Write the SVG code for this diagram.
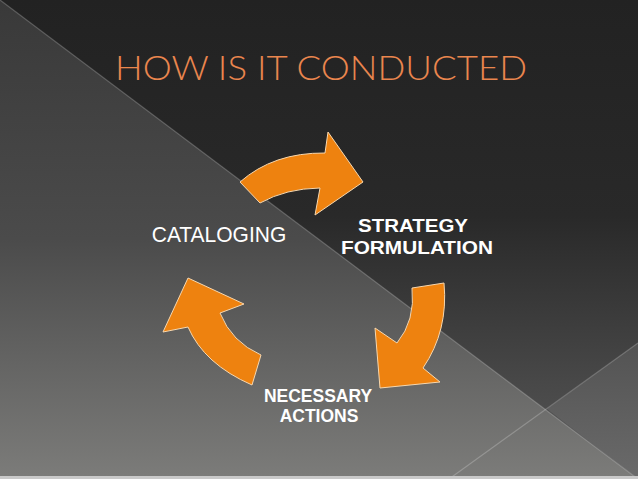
<svg xmlns="http://www.w3.org/2000/svg" width="638" height="479" viewBox="0 0 638 479">
  <defs>
    <linearGradient id="bgLower" x1="0" y1="0" x2="0" y2="1">
      <stop offset="0" stop-color="#393939"/>
      <stop offset="0.5" stop-color="#4b4b4b"/>
      <stop offset="1" stop-color="#7c7c7a"/>
    </linearGradient>
    <linearGradient id="bgUpper" x1="0" y1="0" x2="0" y2="1">
      <stop offset="0" stop-color="#222222"/>
      <stop offset="0.45" stop-color="#292929"/>
      <stop offset="0.8" stop-color="#484848"/>
      <stop offset="1" stop-color="#585858"/>
    </linearGradient>
    <linearGradient id="bgRight" x1="0" y1="0" x2="0" y2="1">
      <stop offset="0" stop-color="#535353"/>
      <stop offset="1" stop-color="#6a6a6a"/>
    </linearGradient>
    <style>
      .arrow { fill: #ee820f; stroke: #f7d7ae; stroke-width: 1; stroke-linejoin: miter; }
      .line { stroke: #ffffff; stroke-opacity: 0.22; stroke-width: 1.2; fill: none; }
      .lbl { font-family: "Liberation Sans", Arial, sans-serif; fill: #ffffff; text-anchor: middle; }
      .bold { font-weight: bold; }
      .title { font-family: Lato, "Open Sans", "Liberation Sans", sans-serif; font-weight: 300; fill: #ea864e; font-size: 33px; }
    </style>
  </defs>

  <!-- background -->
  <rect x="0" y="0" width="638" height="479" fill="url(#bgLower)"/>
  <polygon points="0,0 638,0 638,479" fill="url(#bgUpper)"/>
  <polygon points="547,409 638,343 638,479" fill="url(#bgRight)"/>
  <line class="line" x1="0" y1="0" x2="638" y2="479"/>
  <line class="line" x1="638" y1="343" x2="449" y2="479"/>
  <rect x="0" y="476" width="638" height="3" fill="#c9c9c9"/>

  <!-- title -->
  <text class="title" x="115" y="80" textLength="412" lengthAdjust="spacingAndGlyphs">HOW IS IT CONDUCTED</text>

  <!-- connectors -->
  <g id="connectors">
    <path class="arrow" d="M240,182 Q273.5,152.5 325,153 L328,132 L363,182 L315,215 L320,188 Q286,188.5 260,203 Z"/>
    <path class="arrow" d="M412,288 L444,283 Q448.5,330.5 423,368 L440,382 L380,388 L375,328 L397,343 Q415.5,320.5 412,288 Z"/>
    <path class="arrow" d="M252,385 Q204,364 188,327 L163,332 L188,278 L244,304 L220,313 Q231.5,342 261,355 Z"/>
  </g>

  <!-- nodes -->
  <g id="node-cataloging">
    <text class="lbl" transform="translate(219,242) scale(1,1.05)" font-size="21">CATALOGING</text>
  </g>
  <g id="node-strategy">
    <text class="lbl bold" x="413" y="232" font-size="19" textLength="110" lengthAdjust="spacingAndGlyphs">STRATEGY</text>
    <text class="lbl bold" x="417" y="254" font-size="19" textLength="152" lengthAdjust="spacingAndGlyphs">FORMULATION</text>
  </g>
  <g id="node-actions">
    <text class="lbl bold" transform="translate(318,402) scale(1,1.1)" font-size="17.5">NECESSARY</text>
    <text class="lbl bold" transform="translate(319,422) scale(1,1.1)" font-size="17.5">ACTIONS</text>
  </g>
</svg>
